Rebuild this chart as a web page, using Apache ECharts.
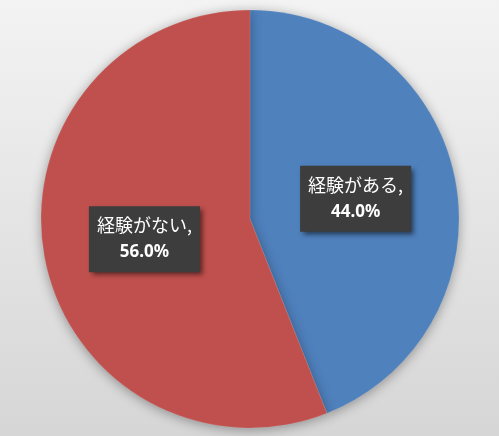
<!DOCTYPE html>
<html><head><meta charset="utf-8">
<script src="https://cdn.jsdelivr.net/npm/echarts@6/dist/echarts.min.js"></script>
<style>html,body{margin:0;padding:0;}#c{width:499px;height:436px;}</style>
</head><body><div id="c"></div>
<script>
const categories = ['経験がある', '経験がない'];
const values = [44.0, 56.0];
const colors = ['#4f81bd', '#c0504d'];

const chart = echarts.init(document.getElementById('c'));
chart.setOption({
  backgroundColor: new echarts.graphic.LinearGradient(0, 0, 0, 1, [
    {offset: 0, color: '#f3f3f3'},
    {offset: 1, color: '#d6d6d6'}
  ]),
  animation: false,
  series: [{
    type: 'pie',
    center: [250, 219],
    radius: [0, 209],
    startAngle: 90,
    clockwise: true,
    data: categories.map((c, i) => ({name: c, value: values[i], itemStyle: {color: colors[i]}})),
    itemStyle: {
      borderColor: 'rgba(255,255,255,0.2)', borderWidth: 0.5,
      shadowBlur: 12, shadowColor: 'rgba(0,0,0,0.35)', shadowOffsetX: 0, shadowOffsetY: 2
    },
    label: {
      show: true,
      position: 'inside',
      formatter: p => '{n|' + p.name + ',}\n{v|' + p.value.toFixed(1) + '%}',
      backgroundColor: '#3d3d3d',
      padding: [6, 8, 6, 8],
      shadowBlur: 5,
      shadowColor: 'rgba(0,0,0,0.55)',
      shadowOffsetX: 3,
      shadowOffsetY: 3,
      align: 'center',
      rich: {
        n: {color: '#ffffff', fontSize: 18, fontFamily: 'Noto Sans CJK JP', lineHeight: 27, align: 'center'},
        v: {color: '#ffffff', fontSize: 17, fontWeight: 'bold', fontFamily: 'Noto Sans, sans-serif', lineHeight: 27, align: 'center'}
      }
    },
    labelLine: {show: false}
  }]
});
</script></body></html>
